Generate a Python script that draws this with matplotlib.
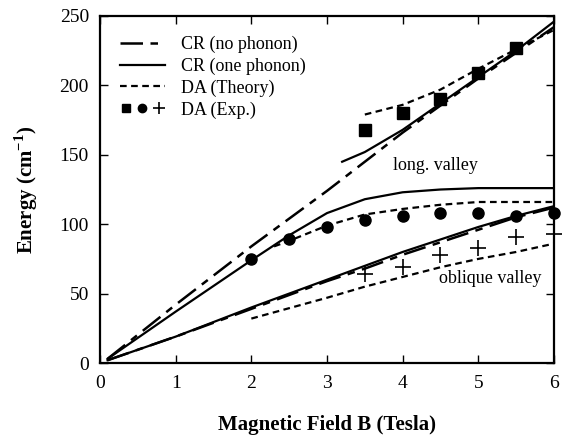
import matplotlib
matplotlib.use("Agg")
import matplotlib.pyplot as plt
from matplotlib.legend_handler import HandlerTuple

plt.rcParams['font.family'] = ['Liberation Serif', 'DejaVu Serif']
plt.rcParams['mathtext.fontset'] = 'custom'
plt.rcParams['mathtext.rm'] = 'Liberation Serif'
plt.rcParams['mathtext.bf'] = 'Liberation Serif:bold'

# CR without phonon coupling
cr0_long_b = [0.1, 1.0, 2.0, 3.0, 4.0, 5.0, 6.0]
cr0_long_e = [3, 42, 84, 124, 166, 205, 242]
cr0_obl_b = [0.1, 1.0, 2.0, 3.0, 3.5, 4.0, 4.5, 5.0, 5.5, 6.0]
cr0_obl_e = [2, 19, 39, 59, 68, 78, 87, 96, 105, 112]

# CR with one phonon
cr1_up_b = [3.2, 3.5, 4.0, 4.5, 5.0, 5.5, 6.0]
cr1_up_e = [145, 152, 168, 187, 206, 225, 246]
cr1_mid_b = [0.1, 1.0, 2.0, 2.5, 3.0, 3.5, 4.0, 4.5, 5.0, 6.0]
cr1_mid_e = [3, 37, 74, 92, 108, 118, 123, 125, 126, 126]
cr1_obl_b = [0.1, 1.0, 2.0, 3.0, 3.5, 4.0, 4.5, 5.0, 5.5, 6.0]
cr1_obl_e = [2, 19, 40, 60, 70, 80, 89, 98, 106, 113]

# DA theory
da_up_b = [3.5, 4.0, 4.5, 5.0, 5.5, 6.0]
da_up_e = [179, 186, 197, 212, 226, 240]
da_mid_b = [2.3, 2.5, 3.0, 3.5, 4.0, 4.5, 5.0, 5.5, 6.0]
da_mid_e = [84, 88, 99, 107, 111, 114, 116, 116, 116]
da_low_b = [2.0, 3.0, 3.5, 4.0, 4.5, 5.0, 5.5, 6.0]
da_low_e = [32, 47, 55, 62, 69, 75, 80, 86]

# DA experiment
sq_b = [3.5, 4.0, 4.5, 5.0, 5.5]
sq_e = [168, 180, 190, 209, 227]
ci_b = [2.0, 2.5, 3.0, 3.5, 4.0, 4.5, 5.0, 5.5, 6.0]
ci_e = [75, 89, 98, 103, 106, 108, 108, 106, 108]
pl_b = [3.5, 4.0, 4.5, 5.0, 5.5, 6.0]
pl_e = [64, 69, 78, 83, 91, 93]

fig = plt.figure(figsize=(5.66, 4.37), dpi=100)
ax = fig.add_axes([100 / 566, 1 - 363 / 437, 454 / 566, 347 / 437])

dd = (0, (9, 3, 3, 3))
l1, = ax.plot(cr0_long_b, cr0_long_e, color='k', lw=1.8, linestyle=dd)
ax.plot(cr0_obl_b, cr0_obl_e, color='k', lw=1.8, linestyle=dd)

l2, = ax.plot(cr1_up_b, cr1_up_e, color='k', lw=1.6)
ax.plot(cr1_mid_b, cr1_mid_e, color='k', lw=1.6)
ax.plot(cr1_obl_b, cr1_obl_e, color='k', lw=1.6)

l3, = ax.plot(da_up_b, da_up_e, color='k', lw=1.6, linestyle=(0, (3, 2)))
ax.plot(da_mid_b, da_mid_e, color='k', lw=1.6, linestyle=(0, (3, 2)))
ax.plot(da_low_b, da_low_e, color='k', lw=1.6, linestyle=(0, (3, 2)))

ax.plot(sq_b, sq_e, 's', color='k', ms=9, ls='none')
ax.plot(ci_b, ci_e, 'o', color='k', ms=8, ls='none', clip_on=False)
ax.plot(pl_b, pl_e, '+', color='k', ms=11, mew=1.2, ls='none', clip_on=False)

ax.text(3.87, 142, 'long. valley', fontsize=13, va='center')
ax.text(4.48, 61, 'oblique valley', fontsize=13, va='center')

lm1, = ax.plot([], [], 's', color='k', ms=6)
lm2, = ax.plot([], [], 'o', color='k', ms=6)
lm3, = ax.plot([], [], '+', color='k', ms=8, mew=1.2)
ax.legend([l1, l2, l3, (lm1, lm2, lm3)],
          ['CR (no phonon)', 'CR (one phonon)', 'DA (Theory)', 'DA (Exp.)'],
          handler_map={tuple: HandlerTuple(ndivide=None, pad=0.3)},
          loc='upper left', frameon=False, fontsize=13, handlelength=2.5,
          handletextpad=0.9, labelspacing=0.25, borderaxespad=0.7)

ax.set_xlim(0, 6)
ax.set_ylim(0, 250)
ax.set_xticks(range(0, 7))
ax.set_yticks(range(0, 251, 50))
ax.tick_params(direction='in', top=True, right=True, length=6, width=1, labelsize=14)
ax.tick_params(axis='x', pad=9)
ax.tick_params(axis='y', pad=8)
for s in ax.spines.values():
    s.set_linewidth(1.6)

ax.set_xlabel('Magnetic Field B (Tesla)', fontsize=15, fontweight='bold', labelpad=16)
ax.set_ylabel('Energy (cm$^{\\mathbf{-1}}$)', fontsize=15, fontweight='bold', labelpad=14)

fig.savefig('out.png', dpi=100)
